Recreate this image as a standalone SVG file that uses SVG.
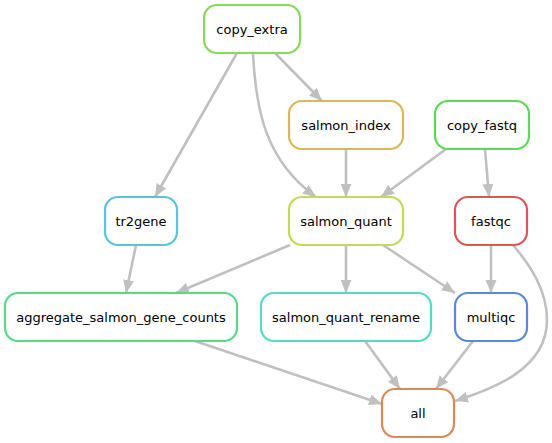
<svg xmlns="http://www.w3.org/2000/svg" width="552" height="443" viewBox="0 0 552 443">
<style>
.n rect{fill:#fff;stroke-width:2.2}
.n text{font-family:"DejaVu Sans",sans-serif;font-size:13px;text-anchor:middle;fill:#000}
#edges path{fill:none;stroke:#c0c0c0;stroke-width:2.6;marker-end:url(#ah)}
</style>
<defs>
<marker id="ah" markerUnits="userSpaceOnUse" markerWidth="14" markerHeight="12" refX="13" refY="5.5" orient="auto">
<path d="M0,0 L13,5.5 L0,11 z" fill="#c0c0c0"/>
</marker>
</defs>
<rect width="552" height="443" fill="#fff"/>
<g id="edges">
<path d="M237,53 L155,197"/>
<path d="M275,53 L322,101"/>
<path d="M253,54 C256,110 265,160 316,197"/>
<path d="M346,149 L346,197"/>
<path d="M446,149 L381,197"/>
<path d="M485,149 L489,197"/>
<path d="M136,245 L126,293"/>
<path d="M290,245 L176,293"/>
<path d="M346,245 L346,293"/>
<path d="M383,245 L455,293"/>
<path d="M491,245 L491,293"/>
<path d="M513,245 C530,265 547,290 547,320 C547,370 490,390 455,401"/>
<path d="M195,341 L382,404"/>
<path d="M365,341 L400,389"/>
<path d="M473,341 L436,389"/>
</g>
<g id="copy_extra" class="n"><rect x="204" y="5" width="96" height="48" rx="13" stroke="#88d957"/><text x="252" y="33.5">copy_extra</text></g>
<g id="salmon_index" class="n"><rect x="289" y="101" width="114" height="48" rx="13" stroke="#d9b957"/><text x="346" y="129.5">salmon_index</text></g>
<g id="copy_fastq" class="n"><rect x="435" y="101" width="94" height="48" rx="13" stroke="#5cd957"/><text x="482" y="129.5">copy_fastq</text></g>
<g id="tr2gene" class="n"><rect x="105" y="197" width="72" height="48" rx="13" stroke="#57c4d9"/><text x="141" y="225.5">tr2gene</text></g>
<g id="salmon_quant" class="n"><rect x="289" y="197" width="114" height="48" rx="13" stroke="#c4d957"/><text x="346" y="225.5">salmon_quant</text></g>
<g id="fastqc" class="n"><rect x="455" y="197" width="72" height="48" rx="13" stroke="#d95757"/><text x="491" y="225.5">fastqc</text></g>
<g id="aggregate_salmon_gene_counts" class="n"><rect x="5" y="293" width="232" height="48" rx="13" stroke="#57d98b"/><text x="121" y="321.5">aggregate_salmon_gene_counts</text></g>
<g id="salmon_quant_rename" class="n"><rect x="261" y="293" width="170" height="48" rx="13" stroke="#57d9c4"/><text x="346" y="321.5">salmon_quant_rename</text></g>
<g id="multiqc" class="n"><rect x="455" y="293" width="72" height="48" rx="13" stroke="#578bd9"/><text x="491" y="321.5">multiqc</text></g>
<g id="all" class="n"><rect x="382" y="389" width="72" height="48" rx="13" stroke="#d98b57"/><text x="418" y="417.5">all</text></g>
</svg>
